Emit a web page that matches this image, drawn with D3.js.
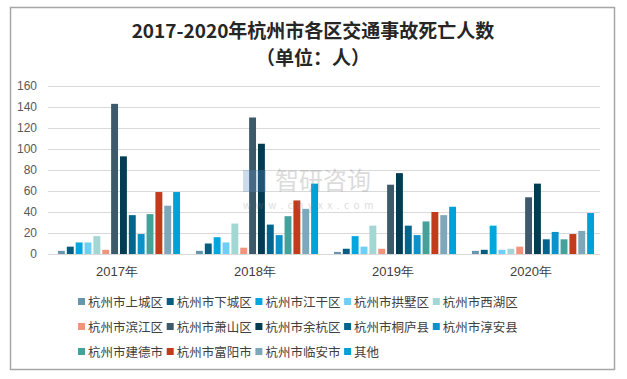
<!DOCTYPE html>
<html><head><meta charset="utf-8">
<script src="https://cdn.jsdelivr.net/npm/d3@7"></script>
<style>
body{margin:0;background:#fff;}
svg{display:block;font-family:"Noto Sans CJK SC","Microsoft YaHei",sans-serif;}
</style></head>
<body>
<svg id="chart" width="627" height="379"></svg>
<script>
const years = ["2017年","2018年","2019年","2020年"];
const districts = ["杭州市上城区","杭州市下城区","杭州市江干区","杭州市拱墅区","杭州市西湖区",
  "杭州市滨江区","杭州市萧山区","杭州市余杭区","杭州市桐庐县","杭州市淳安县",
  "杭州市建德市","杭州市富阳市","杭州市临安市","其他"];
const colors = ["#6596ad","#075d80","#00a6e0","#6dcff6","#a2d7d4","#f0957b","#3c5a6a",
  "#013c53","#02668c","#0b92cb","#43a39b","#c23b1b","#7fa7ba","#00a0d8"];
const v2017 = [3,7,11,11,17,4,143,93,37,19,38,59,46,59];
const v2018 = [3,10,16,11,29,6,130,105,28,18,36,51,43,67];
const v2019 = [2,5,17,7,27,5,66,77,27,18,31,40,37,45];
const v2020 = [3,4,27,4,5,7,54,67,14,21,14,19,22,39];
const yTicks = [0,20,40,60,80,100,120,140,160];
const values = [v2017,v2018,v2019,v2020];

const svg = d3.select("#chart");
svg.append("rect").attr("x",10.5).attr("y",7.5).attr("width",604).attr("height",362)
  .attr("fill","#fff").attr("stroke","#a6a6a6").attr("stroke-width",1.5);

svg.append("text").attr("x",313).attr("y",38).attr("text-anchor","middle")
  .attr("font-size",19).attr("font-weight","bold").attr("fill","#262626")
  .text("2017-2020年杭州市各区交通事故死亡人数");
svg.append("text").attr("x",313).attr("y",65).attr("text-anchor","middle")
  .attr("font-size",19).attr("font-weight","bold").attr("fill","#262626")
  .text("（单位：人）");

const x0 = d3.scaleBand().domain(years).range([48,600]).paddingInner(0).paddingOuter(0);
const x1 = d3.scaleBand().domain(districts).range([8,134]).padding(0.22);
const y = d3.scaleLinear().domain([0,160]).range([254,86]);

const grid = svg.append("g");
grid.selectAll("line").data(yTicks.filter(t=>t>0)).join("line")
  .attr("x1",48).attr("x2",600).attr("y1",d=>y(d)+0.5).attr("y2",d=>y(d)+0.5)
  .attr("stroke","#d9d9d9").attr("stroke-width",1);

const yAxis = d3.axisLeft(y).tickValues(yTicks).tickSize(0).tickPadding(11);
const ya = svg.append("g").attr("transform","translate(48,0)").call(yAxis);
ya.select(".domain").remove();
ya.selectAll("text").attr("font-size",12).attr("fill","#595959")
  .attr("font-family","'Liberation Sans',Arial,sans-serif");

const groups = svg.append("g").selectAll("g").data(years).join("g")
  .attr("transform",d=>`translate(${x0(d)},0)`);
groups.selectAll("rect").data((d,i)=>values[i].map((v,j)=>({k:districts[j],v,c:colors[j]}))).join("rect")
  .attr("x",d=>x1(d.k)).attr("width",x1.bandwidth())
  .attr("y",d=>y(d.v)).attr("height",d=>y(0)-y(d.v)).attr("fill",d=>d.c);

svg.append("line").attr("x1",48).attr("x2",600).attr("y1",254.5).attr("y2",254.5)
  .attr("stroke","#d9d9d9").attr("stroke-width",1);

// watermark (drawn over bars)
const wm = svg.append("g").attr("opacity",0.3);
wm.append("rect").attr("x",243).attr("y",170).attr("width",23).attr("height",22).attr("fill","#5b8fc7");
wm.append("text").attr("x",275).attr("y",189).attr("font-size",24).attr("fill","#8c8c8c").text("智研咨询");
wm.append("text").attr("x",243).attr("y",209).attr("font-size",10).attr("fill","#8c8c8c")
  .attr("letter-spacing",4.6).text("www.chyxx.com");

const xAxis = d3.axisBottom(x0).tickSize(0).tickPadding(13);
const xa = svg.append("g").attr("transform","translate(0,254)").call(xAxis);
xa.select(".domain").remove();
xa.selectAll("text").attr("font-size",13).attr("fill","#404040");

const leg = svg.append("g").selectAll("g").data(districts).join("g")
  .attr("transform",(d,i)=>`translate(${78+(i%5)*88.7},${302+Math.floor(i/5)*25})`);
leg.append("rect").attr("x",0).attr("y",-4).attr("width",7).attr("height",7)
  .attr("fill",(d,i)=>colors[i]);
leg.append("text").attr("x",10).attr("y",0).attr("dy","0.36em").attr("font-size",12.5)
  .attr("fill","#404040").text(d=>d);
</script>
</body></html>
